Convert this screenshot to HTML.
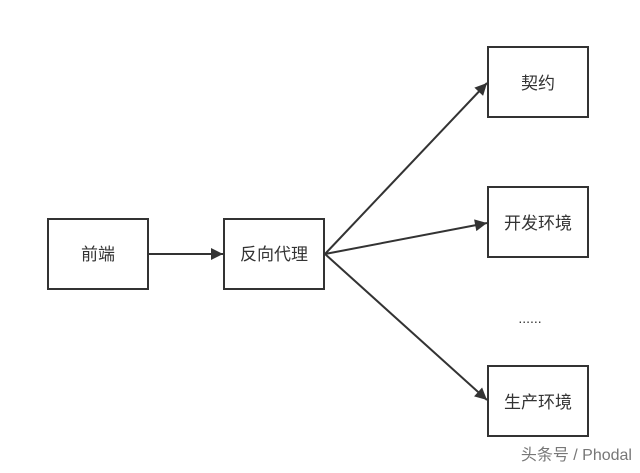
<!DOCTYPE html>
<html><head><meta charset="utf-8"><style>
html,body{margin:0;padding:0;background:#fff;}
body{width:640px;height:468px;overflow:hidden;}
svg text{font-family:"Liberation Sans","Noto Sans CJK SC",sans-serif;fill:#333;}
</style></head><body>
<svg width="640" height="468" viewBox="0 0 640 468" xmlns="http://www.w3.org/2000/svg">
<defs>
<marker id="a" viewBox="0 0 10 10" refX="10" refY="5" markerWidth="15" markerHeight="12" markerUnits="userSpaceOnUse" orient="auto">
<path d="M0,0 L10,5 L0,10 z" fill="#333"/></marker>
</defs>
<g fill="#fff" stroke="#333" stroke-width="2">
<rect x="48" y="219" width="100" height="70"/>
<rect x="224" y="219" width="100" height="70"/>
<rect x="488" y="47" width="100" height="70"/>
<rect x="488" y="187" width="100" height="70"/>
<rect x="488" y="366" width="100" height="70"/>
</g>
<g stroke="#333" stroke-width="2" fill="none">
<line x1="148" y1="254" x2="223" y2="254" marker-end="url(#a)"/>
<line x1="325" y1="254" x2="487" y2="83" marker-end="url(#a)"/>
<line x1="325" y1="254" x2="487" y2="223" marker-end="url(#a)"/>
<line x1="325" y1="254" x2="487" y2="400" marker-end="url(#a)"/>
</g>
<g font-size="17" text-anchor="middle">
<text x="98" y="260">前端</text>
<text x="274" y="260">反向代理</text>
<text x="538" y="89">契约</text>
<text x="538" y="229">开发环境</text>
<text x="538" y="408">生产环境</text>
<text x="530" y="323" font-size="14">......</text>
</g>
<text x="632" y="460" font-size="16" text-anchor="end" style="fill:#777">头条号 / Phodal</text>
</svg>
</body></html>
